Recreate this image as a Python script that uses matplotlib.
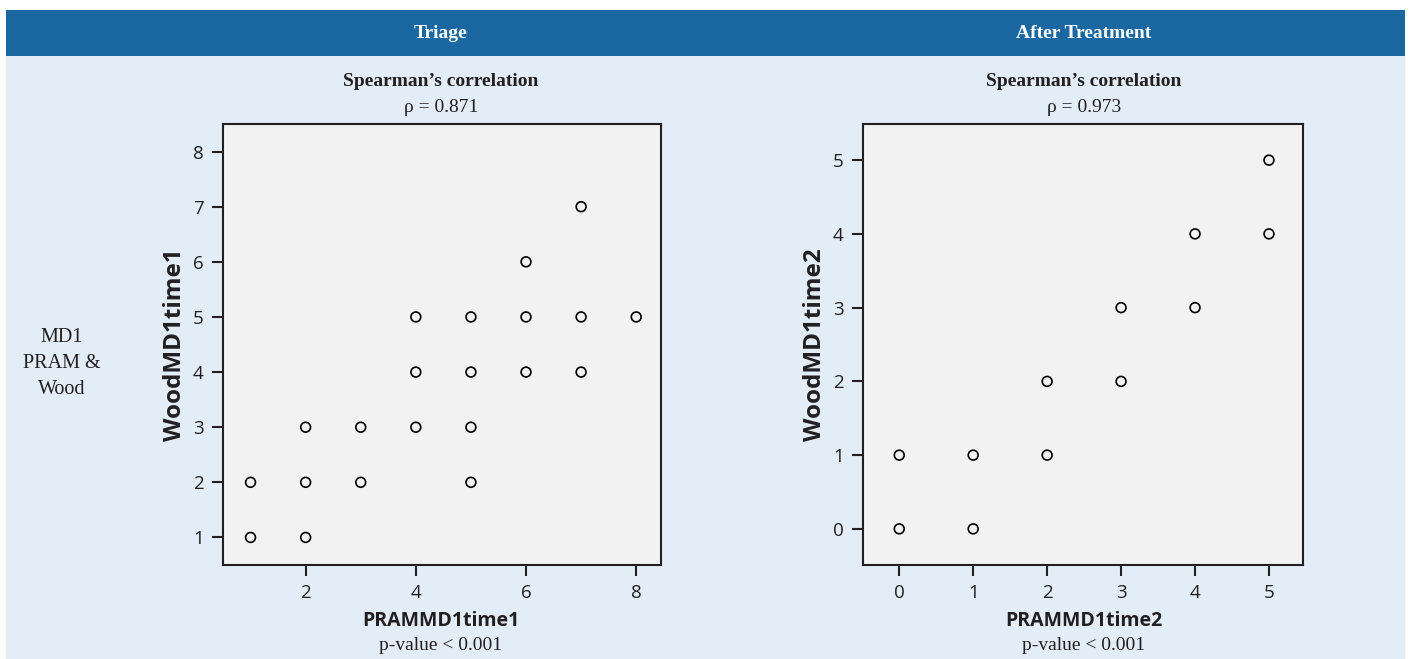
import matplotlib.pyplot as plt
from matplotlib.patches import Rectangle

# Triage scores
triage_pram = [1, 2, 1, 2, 3, 5, 2, 3, 4, 5, 4, 5, 6, 7, 4, 5, 6, 7, 8, 6, 7]
triage_wood = [1, 1, 2, 2, 2, 2, 3, 3, 3, 3, 4, 4, 4, 4, 5, 5, 5, 5, 5, 6, 7]

# After treatment scores
after_pram = [0, 1, 0, 1, 2, 2, 3, 3, 4, 4, 5, 5]
after_wood = [0, 0, 1, 1, 1, 2, 2, 3, 3, 4, 4, 5]

titles = ["Triage", "After Treatment"]
rhos = ["0.871", "0.973"]
xlabels = ["PRAMMD1time1", "PRAMMD1time2"]
ylabels = ["WoodMD1time1", "WoodMD1time2"]

W, H = 1410, 659
fig = plt.figure(figsize=(W / 100, H / 100), dpi=100)
fig.patch.set_facecolor("white")

def fx(px):
    return px / W

def fy(py):
    return 1 - py / H

serif = ["Liberation Serif", "DejaVu Serif"]
sans = ["Open Sans", "DejaVu Sans"]

# background panel and header band
fig.add_artist(Rectangle((fx(6), fy(659)), fx(1405) - fx(6), fy(56) - fy(659),
                         transform=fig.transFigure, facecolor="#e3edf7", edgecolor="none", zorder=0))
fig.add_artist(Rectangle((fx(6), fy(56)), fx(1405) - fx(6), fy(10) - fy(56),
                         transform=fig.transFigure, facecolor="#1b67a2", edgecolor="none", zorder=0))

fig.text(fx(62), fy(363), "MD1\nPRAM &\nWood", ha="center", va="center",
         fontsize=14.5, family=serif, color="#231f20", linespacing=1.5)

boxes = [(223, 661), (863, 1303)]
data = [(triage_pram, triage_wood), (after_pram, after_wood)]
limits = [((0.5, 8.45), (0.5, 8.5)), ((-0.49, 5.46), (-0.49, 5.49))]
xticks = [[2, 4, 6, 8], [0, 1, 2, 3, 4, 5]]
yticks = [[1, 2, 3, 4, 5, 6, 7, 8], [0, 1, 2, 3, 4, 5]]
centers = [441, 1084]

for i in range(2):
    left, right = boxes[i]
    ax = fig.add_axes([fx(left), fy(565), fx(right) - fx(left), fy(124) - fy(565)])
    ax.set_facecolor("#f2f2f2")
    x, y = data[i]
    ax.scatter(x, y, s=50, facecolors="none", edgecolors="black", linewidths=1.2, zorder=3)
    ax.set_xlim(*limits[i][0])
    ax.set_ylim(*limits[i][1])
    ax.set_xticks(xticks[i])
    ax.set_yticks(yticks[i])
    for s in ax.spines.values():
        s.set_linewidth(1.5)
        s.set_color("#231f20")
    ax.tick_params(length=8, width=1.5, labelsize=13.5, color="#231f20", labelcolor="#231f20", pad=6)
    for lab in ax.get_xticklabels() + ax.get_yticklabels():
        lab.set_family(sans)

    cx = centers[i]
    fig.text(fx(cx), fy(34), titles[i], ha="center", va="center", fontsize=14,
             fontweight="bold", family=serif, color="white")
    fig.text(fx(cx), fy(81), "Spearman\u2019s correlation", ha="center", va="center",
             fontsize=14, fontweight="bold", family=serif, color="#231f20")
    fig.text(fx(cx), fy(107), "\u03c1 = " + rhos[i], ha="center", va="center",
             fontsize=14, family=serif, color="#231f20")
    fig.text(fx(cx), fy(621), xlabels[i], ha="center", va="center",
             fontsize=14, fontweight="bold", family=sans, color="#231f20")
    fig.text(fx(cx), fy(646), "p-value < 0.001", ha="center", va="center",
             fontsize=14, family=serif, color="#231f20")
    fig.text(fx(left - 48), fy(345), ylabels[i], ha="center", va="center", rotation=90,
             fontsize=17.5, fontweight="bold", family=sans, color="#231f20")

fig.savefig("out.png", dpi=100)
